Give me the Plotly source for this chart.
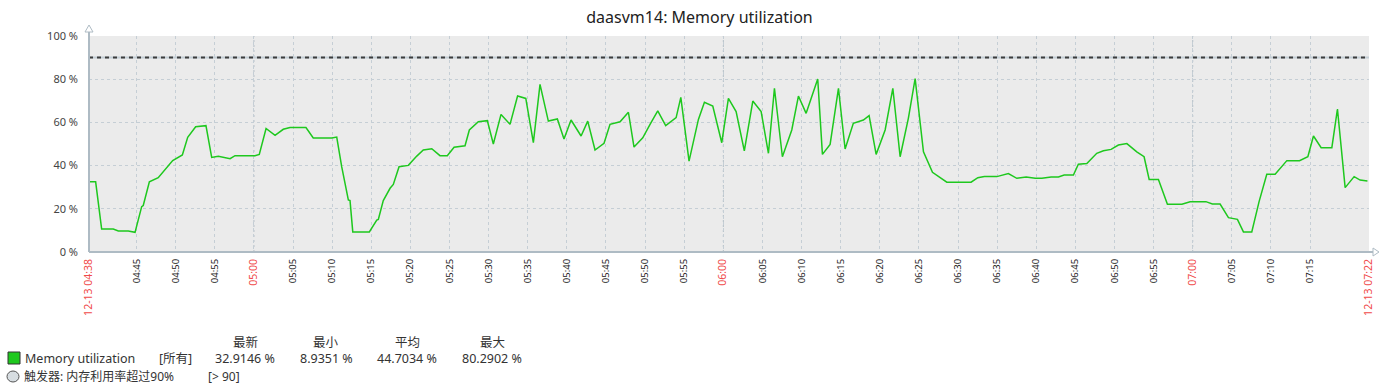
import plotly.graph_objects as go

# ---------------- data ----------------
DAY = "2023-12-13 "
times = [
    "04:38:55", "04:39:46", "04:40:32", "04:42:01", "04:42:40", "04:43:56", "04:44:48", "04:45:39", "04:45:51", "04:46:38",
    "04:47:46", "04:48:38", "04:49:37", "04:50:51", "04:51:32", "04:52:33", "04:53:52", "04:54:36", "04:55:27", "04:56:57",
    "04:57:35", "05:00:08", "05:00:41", "05:01:33", "05:02:42", "05:03:45", "05:04:37", "05:06:39", "05:07:35", "05:09:57",
    "05:10:35", "05:11:13", "05:12:04", "05:12:17", "05:12:38", "05:14:45", "05:15:42", "05:15:54", "05:16:32", "05:17:24",
    "05:17:49", "05:18:33", "05:19:44", "05:20:49", "05:21:39", "05:22:44", "05:23:47", "05:24:43", "05:25:35", "05:26:59",
    "05:27:32", "05:28:41", "05:29:50", "05:30:36", "05:31:35", "05:32:44", "05:33:42", "05:34:45", "05:35:43", "05:36:34",
    "05:37:38", "05:38:47", "05:39:38", "05:40:32", "05:41:49", "05:42:40", "05:43:36", "05:44:45", "05:45:31", "05:46:48",
    "05:47:52", "05:48:35", "05:49:42", "05:50:38", "05:51:37", "05:52:38", "05:53:58", "05:54:34", "05:55:37", "05:56:49",
    "05:57:35", "05:58:39", "05:59:48", "06:00:39", "06:01:38", "06:02:41", "06:03:46", "06:04:50", "06:05:46", "06:06:32",
    "06:07:33", "06:08:45", "06:09:36", "06:10:35", "06:12:04", "06:12:40", "06:13:39", "06:14:43", "06:15:34", "06:16:37",
    "06:17:54", "06:18:38", "06:19:32", "06:20:41", "06:21:40", "06:22:36", "06:23:39", "06:24:31", "06:25:35", "06:26:44",
    "06:27:42", "06:28:34", "06:31:40", "06:32:32", "06:33:22", "06:34:58", "06:36:26", "06:37:31", "06:38:43", "06:39:52",
    "06:40:43", "06:41:54", "06:42:50", "06:43:34", "06:44:45", "06:45:23", "06:46:28", "06:47:44", "06:48:35", "06:49:34",
    "06:50:30", "06:51:35", "06:52:51", "06:53:47", "06:54:26", "06:55:37", "06:56:46", "06:58:37", "06:59:40", "07:01:41",
    "07:02:31", "07:03:30", "07:04:34", "07:05:43", "07:06:29", "07:07:33", "07:08:29", "07:09:28", "07:10:32", "07:12:02",
    "07:13:39", "07:14:43", "07:15:26", "07:16:25", "07:17:47", "07:18:30", "07:19:29", "07:20:38", "07:21:24", "07:22:20",
]
memory_pct = [
    32.5, 32.5, 10.6, 10.6, 9.7, 9.7, 9.1, 21.0, 21.5, 32.5,
    34.4, 38.3, 42.3, 44.9, 53.1, 58.0, 58.5, 43.8, 44.3, 43.2,
    44.6, 44.6, 45.2, 57.2, 54.0, 56.8, 57.6, 57.6, 52.8, 52.8,
    53.2, 39.5, 24.1, 23.8, 9.3, 9.3, 14.8, 15.1, 23.8, 29.5,
    31.3, 39.5, 40.1, 44.4, 47.2, 47.8, 44.6, 44.6, 48.5, 49.2,
    56.5, 60.3, 60.8, 50.0, 63.7, 59.1, 72.2, 71.1, 50.6, 77.6,
    60.6, 61.6, 52.3, 61.1, 53.7, 60.6, 47.2, 50.3, 59.1, 60.3,
    64.7, 48.6, 52.9, 59.1, 65.3, 58.5, 62.2, 71.6, 42.1, 61.4,
    69.3, 67.6, 50.6, 71.1, 65.0, 46.8, 69.9, 65.0, 45.7, 75.8,
    44.1, 56.5, 72.2, 64.2, 80.1, 45.2, 49.8, 75.8, 47.7, 59.6,
    61.1, 63.1, 45.2, 56.5, 75.8, 44.1, 61.9, 80.3, 46.4, 36.9,
    34.4, 32.3, 32.3, 34.4, 34.9, 34.9, 36.3, 34.1, 34.7, 34.1,
    34.1, 34.7, 34.7, 35.6, 35.6, 40.6, 41.0, 45.7, 46.9, 47.5,
    49.5, 50.2, 46.4, 44.1, 33.6, 33.6, 22.1, 22.1, 23.3, 23.3,
    22.2, 22.2, 15.9, 15.1, 9.3, 9.3, 23.3, 36.0, 36.0, 42.3,
    42.3, 44.1, 53.7, 48.3, 48.3, 66.2, 29.8, 34.9, 33.3, 32.9,
]
trigger_value = 90

range_start = "04:38:55"
range_end = "07:22:32"
tick_times = ["04:45", "04:50", "04:55", "05:00", "05:05", "05:10", "05:15", "05:20", "05:25", "05:30",
              "05:35", "05:40", "05:45", "05:50", "05:55", "06:00", "06:05", "06:10", "06:15", "06:20",
              "06:25", "06:30", "06:35", "06:40", "06:45", "06:50", "06:55", "07:00", "07:05", "07:10", "07:15"]
hour_ticks = ["05:00", "06:00", "07:00"]
edge_labels = ["12-13 04:38", "12-13 07:22"]

y_ticks = [0, 20, 40, 60, 80, 100]
y_labels = ["0 %", "20 %", "40 %", "60 %", "80 %", "100 %"]

title_text = "daasvm14: Memory utilization"
legend_headers = ["最新", "最小", "平均", "最大"]
legend_stats = ["32.9146 %", "8.9351 %", "44.7034 %", "80.2902 %"]
series_name = "Memory utilization"
series_scope = "[所有]"
trigger_name = "触发器: 内存利用率超过90%"
trigger_cond = "[> 90]"

# ---------------- styling ----------------
GREEN = "#1ec81e"
RED = "#f04a4a"
GRID = "#c5ced5"
AXIS = "#aebbc4"
TEXT = "#333333"
FONT = "Noto Sans, Noto Sans CJK SC, DejaVu Sans, sans-serif"

W, H = 1380, 384
L, R, T, B = 89, 11, 36, 132
PW, PH = W - L - R, H - T - B


def px(xp):
    return (xp - L) / PW


def py(yp):
    return (H - B - yp) / PH


xs = [DAY + t for t in times]

tickvals = [DAY + range_start] + [DAY + t + ":00" for t in tick_times] + [DAY + range_end]
ticktext = [f"<span style='color:{RED};font-size:10.5px'>{edge_labels[0]}</span>"]
for t in tick_times:
    if t in hour_ticks:
        ticktext.append(f"<span style='color:{RED};font-size:10.5px'>{t}</span>")
    else:
        ticktext.append(t)
ticktext.append(f"<span style='color:{RED};font-size:10.5px'>{edge_labels[1]}</span>")

fig = go.Figure()
fig.add_trace(go.Scatter(x=xs, y=memory_pct, mode="lines",
                         line=dict(color=GREEN, width=1.5), showlegend=False,
                         hoverinfo="x+y"))

shapes = []
# slightly darker hour grid lines
for h in hour_ticks:
    shapes.append(dict(type="line", xref="x", yref="paper", x0=DAY + h + ":00", x1=DAY + h + ":00",
                       y0=0, y1=1, line=dict(color="#b3bec6", width=1, dash="2px,3px"), layer="below"))
# trigger line
shapes.append(dict(type="line", xref="paper", yref="y", x0=0, x1=1, y0=trigger_value, y1=trigger_value,
                   line=dict(color="#c3ced5", width=2)))
shapes.append(dict(type="line", xref="paper", yref="y", x0=0, x1=1, y0=trigger_value, y1=trigger_value,
                   line=dict(color="#3c3c3c", width=2, dash="4px,4px")))
# axes lines with arrows
shapes.append(dict(type="line", xref="paper", yref="paper", x0=0, x1=0, y0=0, y1=py(29),
                   line=dict(color=AXIS, width=2)))
shapes.append(dict(type="line", xref="paper", yref="paper", x0=0, x1=px(1374), y0=0, y1=0,
                   line=dict(color=AXIS, width=2)))
shapes.append(dict(type="path", xref="paper", yref="paper",
                   path=f"M {px(85)} {py(32)} L {px(89)} {py(25)} L {px(93)} {py(32)} Z",
                   line=dict(color=AXIS, width=1), fillcolor="white"))
shapes.append(dict(type="path", xref="paper", yref="paper",
                   path=f"M {px(1373)} {py(248)} L {px(1379)} {py(252)} L {px(1373)} {py(256)} Z",
                   line=dict(color=AXIS, width=1), fillcolor="white"))
# legend markers
shapes.append(dict(type="rect", xref="paper", yref="paper", x0=px(8), x1=px(20), y0=py(364), y1=py(352),
                   fillcolor=GREEN, line=dict(color="#333333", width=1)))
shapes.append(dict(type="circle", xref="paper", yref="paper", x0=px(7), x1=px(19), y0=py(382), y1=py(371),
                   fillcolor="#d7dde1", line=dict(color="#555555", width=1)))

annotations = []


def ann(text, xp, yp, xanchor="left", size=12.5, color=TEXT):
    annotations.append(dict(text=text, x=px(xp), y=py(yp), xref="paper", yref="paper",
                            xanchor=xanchor, yanchor="middle", showarrow=False, borderpad=0,
                            font=dict(family=FONT, size=size, color=color)))


stat_centers = [245, 326, 407, 492]
for hdr, st, cx in zip(legend_headers, legend_stats, stat_centers):
    ann(hdr, cx, 342, "center")
    ann(st, cx, 358, "center")
ann(series_name, 24, 358)
ann(series_scope, 158, 358)
ann(trigger_name, 23, 376, size=12)
ann(trigger_cond, 207, 376, size=12)

fig.update_layout(
    width=W, height=H,
    margin=dict(l=L, r=R, t=T, b=B, pad=0, autoexpand=False),
    paper_bgcolor="white", plot_bgcolor="#ebebeb",
    title=dict(text=title_text, x=699.5 / W, xref="container", xanchor="center", y=1 - 17 / H, yanchor="middle",
               font=dict(family=FONT, size=16, color="#222222")),
    font=dict(family=FONT, color=TEXT),
    shapes=shapes, annotations=annotations,
    showlegend=False,
    xaxis=dict(type="date", range=[DAY + range_start, DAY + range_end],
               tickmode="array", tickvals=tickvals, ticktext=ticktext, tickangle=-90,
               tickfont=dict(family=FONT, size=9.5, color="#222222"),
               showgrid=True, gridcolor=GRID, griddash="dot", gridwidth=1, automargin=False,
               zeroline=False, showline=False, ticks="", ticklabelstandoff=4),
    yaxis=dict(range=[0, 100], tickmode="array", tickvals=y_ticks, ticktext=y_labels,
               tickfont=dict(family=FONT, size=11, color="#444444"), automargin=False,
               showgrid=True, gridcolor=GRID, griddash="dot", gridwidth=1,
               zeroline=False, showline=False, ticks="", ticklabelstandoff=10),
)

fig.write_html("out.html", config={"displayModeBar": False},
               post_script="document.body.style.margin='0';document.body.style.padding='0';")
